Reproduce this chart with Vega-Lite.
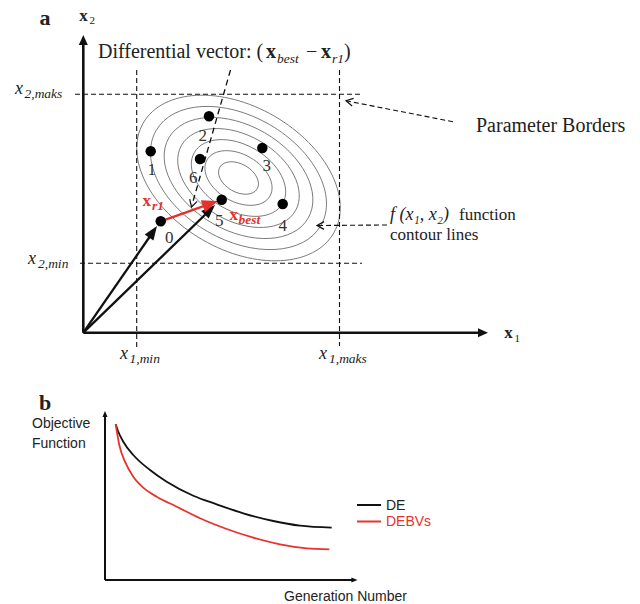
{
  "$schema": "https://vega.github.io/schema/vega-lite/v6.json",
  "width": 640,
  "height": 604,
  "padding": 0,
  "autosize": {"type": "none"},
  "background": "white",
  "config": {"view": {"stroke": null}},
  "datasets": {
    "contours": [
      {"x": 238.5, "y": 178, "a": 21.6},
      {"x": 238.5, "y": 178, "a": 36.3},
      {"x": 238.5, "y": 178, "a": 51},
      {"x": 238.5, "y": 178, "a": 65.7},
      {"x": 238.5, "y": 178, "a": 80.4},
      {"x": 238.5, "y": 178, "a": 95.1},
      {"x": 238.5, "y": 178, "a": 110}
    ],
    "dashes": [
      {"x": 136.7, "y": 70, "x2": 136.7, "y2": 347},
      {"x": 339.5, "y": 70, "x2": 339.5, "y2": 346},
      {"x": 75, "y": 94.3, "x2": 362, "y2": 94.3},
      {"x": 80, "y": 263.3, "x2": 362, "y2": 263.3},
      {"x": 453, "y": 121.7, "x2": 347, "y2": 101},
      {"x": 387, "y": 225, "x2": 318, "y2": 225.5}
    ],
    "diffLine": [{"x": 230.5, "y": 70, "x2": 192, "y2": 205}],
    "axesA": [
      {"x": 83.3, "y": 332.7, "x2": 83.3, "y2": 44},
      {"x": 83.3, "y": 332.7, "x2": 480, "y2": 332.7}
    ],
    "axesB": [
      {"x": 105, "y": 580, "x2": 105, "y2": 416},
      {"x": 105, "y": 580, "x2": 352, "y2": 580}
    ],
    "vectors": [
      {"x": 83.3, "y": 332.7, "x2": 153, "y2": 232},
      {"x": 83.3, "y": 332.7, "x2": 210, "y2": 210}
    ],
    "redVector": [{"x": 160.7, "y": 221.3, "x2": 210, "y2": 203.8}],
    "headsAxisA": [
      {"x": 83.3, "y": 35, "heading": 0},
      {"x": 488, "y": 332.7, "heading": 90}
    ],
    "headsVec": [
      {"x": 157, "y": 226, "heading": 34.6},
      {"x": 215, "y": 205, "heading": 45.9}
    ],
    "headsRed": [{"x": 218, "y": 201, "heading": 70.5}],
    "headsB": [
      {"x": 105, "y": 411, "heading": 0},
      {"x": 357.5, "y": 580, "heading": 90}
    ],
    "openHeads": [
      {"x": 346, "y": 100.8, "heading": 281},
      {"x": 317, "y": 225.5, "heading": 270},
      {"x": 191.5, "y": 207, "heading": 196}
    ],
    "dots": [
      {"x": 150.7, "y": 151.3, "id": "1"},
      {"x": 209, "y": 116.3, "id": "2"},
      {"x": 262.3, "y": 148, "id": "3"},
      {"x": 282.7, "y": 204, "id": "4"},
      {"x": 221.7, "y": 199.7, "id": "5"},
      {"x": 200, "y": 159, "id": "6"},
      {"x": 160.7, "y": 221.3, "id": "0"}
    ],
    "digits": [
      {"x": 151.7, "y": 169.7, "t": "1"},
      {"x": 202.7, "y": 136.3, "t": "2"},
      {"x": 266.7, "y": 166.3, "t": "3"},
      {"x": 282.7, "y": 226.3, "t": "4"},
      {"x": 219.3, "y": 221.3, "t": "5"},
      {"x": 193.3, "y": 178, "t": "6"},
      {"x": 169.3, "y": 238, "t": "0"}
    ],
    "curves": [
      {"x": 115.7, "y": 424.3, "series": "DE"},
      {"x": 118, "y": 431, "series": "DE"},
      {"x": 123.3, "y": 441.7, "series": "DE"},
      {"x": 133.3, "y": 455, "series": "DE"},
      {"x": 150, "y": 470, "series": "DE"},
      {"x": 166.7, "y": 481.7, "series": "DE"},
      {"x": 193.3, "y": 495.7, "series": "DE"},
      {"x": 216.7, "y": 504.3, "series": "DE"},
      {"x": 243.3, "y": 513.3, "series": "DE"},
      {"x": 273.3, "y": 521, "series": "DE"},
      {"x": 300, "y": 525.7, "series": "DE"},
      {"x": 331.7, "y": 527.7, "series": "DE"},
      {"x": 115.7, "y": 424.3, "series": "DEBVs"},
      {"x": 119.3, "y": 445, "series": "DEBVs"},
      {"x": 125, "y": 461.7, "series": "DEBVs"},
      {"x": 133.3, "y": 476.7, "series": "DEBVs"},
      {"x": 143.3, "y": 487.7, "series": "DEBVs"},
      {"x": 156.7, "y": 496.7, "series": "DEBVs"},
      {"x": 176.7, "y": 506.7, "series": "DEBVs"},
      {"x": 200, "y": 518.3, "series": "DEBVs"},
      {"x": 226.7, "y": 529, "series": "DEBVs"},
      {"x": 253.3, "y": 537.7, "series": "DEBVs"},
      {"x": 280, "y": 544.3, "series": "DEBVs"},
      {"x": 306.7, "y": 548.3, "series": "DEBVs"},
      {"x": 329.3, "y": 549.3, "series": "DEBVs"}
    ],
    "legendLines": [
      {"x": 357, "y": 505, "x2": 381, "y2": 505, "series": "DE"},
      {"x": 357, "y": 521.5, "x2": 381, "y2": 521.5, "series": "DEBVs"}
    ],
    "panelLetters": [
      {"x": 45, "y": 25, "t": "a"},
      {"x": 45, "y": 410, "t": "b"}
    ],
    "axisNames": [
      {"x": 83.5, "y": 21, "t": "x"},
      {"x": 508.5, "y": 338, "t": "x"}
    ],
    "axisNameSubs": [
      {"x": 89.5, "y": 24, "t": "2"},
      {"x": 514.5, "y": 341.5, "t": "1"}
    ],
    "boundMain": [
      {"x": 19, "y": 93.5, "t": "x"},
      {"x": 32, "y": 263.5, "t": "x"},
      {"x": 124, "y": 359.3, "t": "x"},
      {"x": 323, "y": 359.3, "t": "x"}
    ],
    "boundSubs": [
      {"x": 24.5, "y": 98, "t": "2,maks"},
      {"x": 38, "y": 267.5, "t": "2,min"},
      {"x": 129.5, "y": 363, "t": "1,min"},
      {"x": 329, "y": 363, "t": "1,maks"}
    ],
    "serif20": [
      {"x": 98, "y": 58.3, "t": "Differential vector: ("},
      {"x": 306, "y": 58.3, "t": "−"},
      {"x": 344, "y": 58.3, "t": ")"},
      {"x": 476, "y": 132, "t": "Parameter Borders"}
    ],
    "serif20bold": [
      {"x": 266, "y": 58.3, "t": "x"},
      {"x": 321, "y": 58.3, "t": "x"}
    ],
    "titleSubs": [
      {"x": 277, "y": 62.5, "t": "best"},
      {"x": 332, "y": 62.5, "t": "r1"}
    ],
    "annotItalic": [{"x": 390, "y": 220, "t": "f (x₁, x₂)"}],
    "annot": [
      {"x": 459, "y": 220, "t": "function"},
      {"x": 390, "y": 239.5, "t": "contour lines"}
    ],
    "redMain": [
      {"x": 146.7, "y": 206.3, "t": "x"},
      {"x": 233.8, "y": 219.7, "t": "x"}
    ],
    "redSubs": [
      {"x": 152, "y": 210, "t": "r1"},
      {"x": 238.5, "y": 223.5, "t": "best"}
    ],
    "sansLabels": [
      {"x": 32, "y": 428.3, "t": "Objective"},
      {"x": 32, "y": 447.7, "t": "Function"},
      {"x": 284, "y": 601, "t": "Generation Number"},
      {"x": 386, "y": 510, "t": "DE"}
    ],
    "sansRed": [{"x": 386, "y": 526, "t": "DEBVs"}]
  },
  "encoding": {
    "x": {"field": "x", "type": "quantitative", "scale": {"domain": [0, 640], "nice": false, "zero": false}, "axis": null},
    "y": {"field": "y", "type": "quantitative", "scale": {"domain": [0, 604], "nice": false, "zero": false, "reverse": true}, "axis": null}
  },
  "layer": [
    {
      "data": {"name": "contours"},
      "mark": {"type": "point", "shape": "M1,0 C1,0.359 0.552,0.65 0,0.65 C-0.552,0.65 -1,0.359 -1,0 C-1,-0.359 -0.552,-0.65 0,-0.65 C0.552,-0.65 1,-0.359 1,0 Z", "angle": 30, "filled": false, "stroke": "#6b6b6b", "strokeWidth": 0.8, "opacity": 1},
      "encoding": {"size": {"field": "a", "type": "quantitative", "scale": {"type": "pow", "exponent": 2, "domain": [0, 110], "range": [0, 48400]}, "legend": null}}
    },
    {
      "data": {"name": "dashes"},
      "mark": {"type": "rule", "strokeDash": [5, 3], "strokeWidth": 1.1, "color": "#111111"},
      "encoding": {"x2": {"field": "x2"}, "y2": {"field": "y2"}}
    },
    {
      "data": {"name": "diffLine"},
      "mark": {"type": "rule", "strokeDash": [6, 4], "strokeWidth": 1.3, "color": "#111111"},
      "encoding": {"x2": {"field": "x2"}, "y2": {"field": "y2"}}
    },
    {
      "data": {"name": "axesA"},
      "mark": {"type": "rule", "strokeWidth": 2.6, "color": "#111111"},
      "encoding": {"x2": {"field": "x2"}, "y2": {"field": "y2"}}
    },
    {
      "data": {"name": "axesB"},
      "mark": {"type": "rule", "strokeWidth": 2, "color": "#111111"},
      "encoding": {"x2": {"field": "x2"}, "y2": {"field": "y2"}}
    },
    {
      "data": {"name": "vectors"},
      "mark": {"type": "rule", "strokeWidth": 2.3, "color": "#111111"},
      "encoding": {"x2": {"field": "x2"}, "y2": {"field": "y2"}}
    },
    {
      "data": {"name": "redVector"},
      "mark": {"type": "rule", "strokeWidth": 2.4, "color": "#e5312a"},
      "encoding": {"x2": {"field": "x2"}, "y2": {"field": "y2"}}
    },
    {
      "data": {"name": "headsAxisA"},
      "mark": {"type": "point", "shape": "M0,0 L0.45,1 L-0.45,1 Z", "filled": true, "size": 400, "color": "#111111", "opacity": 1},
      "encoding": {"angle": {"field": "heading", "type": "quantitative", "scale": null}}
    },
    {
      "data": {"name": "headsVec"},
      "mark": {"type": "point", "shape": "M0,0 L0.38,1 L-0.38,1 Z", "filled": true, "size": 784, "color": "#111111", "opacity": 1},
      "encoding": {"angle": {"field": "heading", "type": "quantitative", "scale": null}}
    },
    {
      "data": {"name": "headsRed"},
      "mark": {"type": "point", "shape": "M0,0 L0.4,1 L-0.4,1 Z", "filled": true, "size": 1024, "color": "#e5312a", "opacity": 1},
      "encoding": {"angle": {"field": "heading", "type": "quantitative", "scale": null}}
    },
    {
      "data": {"name": "headsB"},
      "mark": {"type": "point", "shape": "M0,0 L0.42,1 L-0.42,1 Z", "filled": true, "size": 150, "color": "#111111", "opacity": 1},
      "encoding": {"angle": {"field": "heading", "type": "quantitative", "scale": null}}
    },
    {
      "data": {"name": "openHeads"},
      "mark": {"type": "point", "shape": "M-0.55,1 L0,0 L0.55,1", "filled": false, "size": 196, "stroke": "#111111", "strokeWidth": 1.2, "opacity": 1},
      "encoding": {"angle": {"field": "heading", "type": "quantitative", "scale": null}}
    },
    {
      "data": {"name": "dots"},
      "mark": {"type": "point", "shape": "circle", "filled": true, "size": 110, "color": "#000000", "opacity": 1}
    },
    {
      "data": {"name": "curves"},
      "mark": {"type": "line", "interpolate": "monotone", "strokeWidth": 1.8},
      "encoding": {"color": {"field": "series", "type": "nominal", "scale": {"domain": ["DE", "DEBVs"], "range": ["#111111", "#e8322b"]}, "legend": null}}
    },
    {
      "data": {"name": "legendLines"},
      "mark": {"type": "rule", "strokeWidth": 2},
      "encoding": {"x2": {"field": "x2"}, "y2": {"field": "y2"}, "color": {"field": "series", "type": "nominal", "scale": {"domain": ["DE", "DEBVs"], "range": ["#111111", "#e8322b"]}, "legend": null}}
    },
    {
      "data": {"name": "digits"},
      "mark": {"type": "text", "font": "Liberation Serif", "fontSize": 17, "align": "center", "baseline": "middle", "color": "#333333"},
      "encoding": {"text": {"field": "t"}}
    },
    {
      "data": {"name": "panelLetters"},
      "mark": {"type": "text", "font": "Liberation Serif", "fontSize": 22, "fontWeight": "bold", "align": "center", "baseline": "alphabetic", "color": "#222222"},
      "encoding": {"text": {"field": "t"}}
    },
    {
      "data": {"name": "axisNames"},
      "mark": {"type": "text", "font": "Liberation Serif", "fontSize": 17, "fontWeight": "bold", "align": "center", "baseline": "alphabetic", "color": "#222222"},
      "encoding": {"text": {"field": "t"}}
    },
    {
      "data": {"name": "axisNameSubs"},
      "mark": {"type": "text", "font": "Liberation Serif", "fontSize": 11, "align": "left", "baseline": "alphabetic", "color": "#222222"},
      "encoding": {"text": {"field": "t"}}
    },
    {
      "data": {"name": "boundMain"},
      "mark": {"type": "text", "font": "Liberation Serif", "fontSize": 18, "fontStyle": "italic", "align": "center", "baseline": "alphabetic", "color": "#222222"},
      "encoding": {"text": {"field": "t"}}
    },
    {
      "data": {"name": "boundSubs"},
      "mark": {"type": "text", "font": "Liberation Serif", "fontSize": 13.5, "fontStyle": "italic", "align": "left", "baseline": "alphabetic", "color": "#222222"},
      "encoding": {"text": {"field": "t"}}
    },
    {
      "data": {"name": "serif20"},
      "mark": {"type": "text", "font": "Liberation Serif", "fontSize": 20, "align": "left", "baseline": "alphabetic", "color": "#222222"},
      "encoding": {"text": {"field": "t"}}
    },
    {
      "data": {"name": "serif20bold"},
      "mark": {"type": "text", "font": "Liberation Serif", "fontSize": 20, "fontWeight": "bold", "align": "left", "baseline": "alphabetic", "color": "#222222"},
      "encoding": {"text": {"field": "t"}}
    },
    {
      "data": {"name": "titleSubs"},
      "mark": {"type": "text", "font": "Liberation Serif", "fontSize": 13.5, "fontStyle": "italic", "align": "left", "baseline": "alphabetic", "color": "#222222"},
      "encoding": {"text": {"field": "t"}}
    },
    {
      "data": {"name": "annotItalic"},
      "mark": {"type": "text", "font": "Liberation Serif", "fontSize": 18, "fontStyle": "italic", "align": "left", "baseline": "alphabetic", "color": "#222222"},
      "encoding": {"text": {"field": "t"}}
    },
    {
      "data": {"name": "annot"},
      "mark": {"type": "text", "font": "Liberation Serif", "fontSize": 17, "align": "left", "baseline": "alphabetic", "color": "#222222"},
      "encoding": {"text": {"field": "t"}}
    },
    {
      "data": {"name": "redMain"},
      "mark": {"type": "text", "font": "Liberation Serif", "fontSize": 17, "fontWeight": "bold", "align": "center", "baseline": "alphabetic", "color": "#e5312a"},
      "encoding": {"text": {"field": "t"}}
    },
    {
      "data": {"name": "redSubs"},
      "mark": {"type": "text", "font": "Liberation Serif", "fontSize": 13.5, "fontWeight": "bold", "fontStyle": "italic", "align": "left", "baseline": "alphabetic", "color": "#e5312a"},
      "encoding": {"text": {"field": "t"}}
    },
    {
      "data": {"name": "sansLabels"},
      "mark": {"type": "text", "font": "Liberation Sans", "fontSize": 14, "align": "left", "baseline": "alphabetic", "color": "#222222"},
      "encoding": {"text": {"field": "t"}}
    },
    {
      "data": {"name": "sansRed"},
      "mark": {"type": "text", "font": "Liberation Sans", "fontSize": 14, "align": "left", "baseline": "alphabetic", "color": "#e8322b"},
      "encoding": {"text": {"field": "t"}}
    }
  ]
}
